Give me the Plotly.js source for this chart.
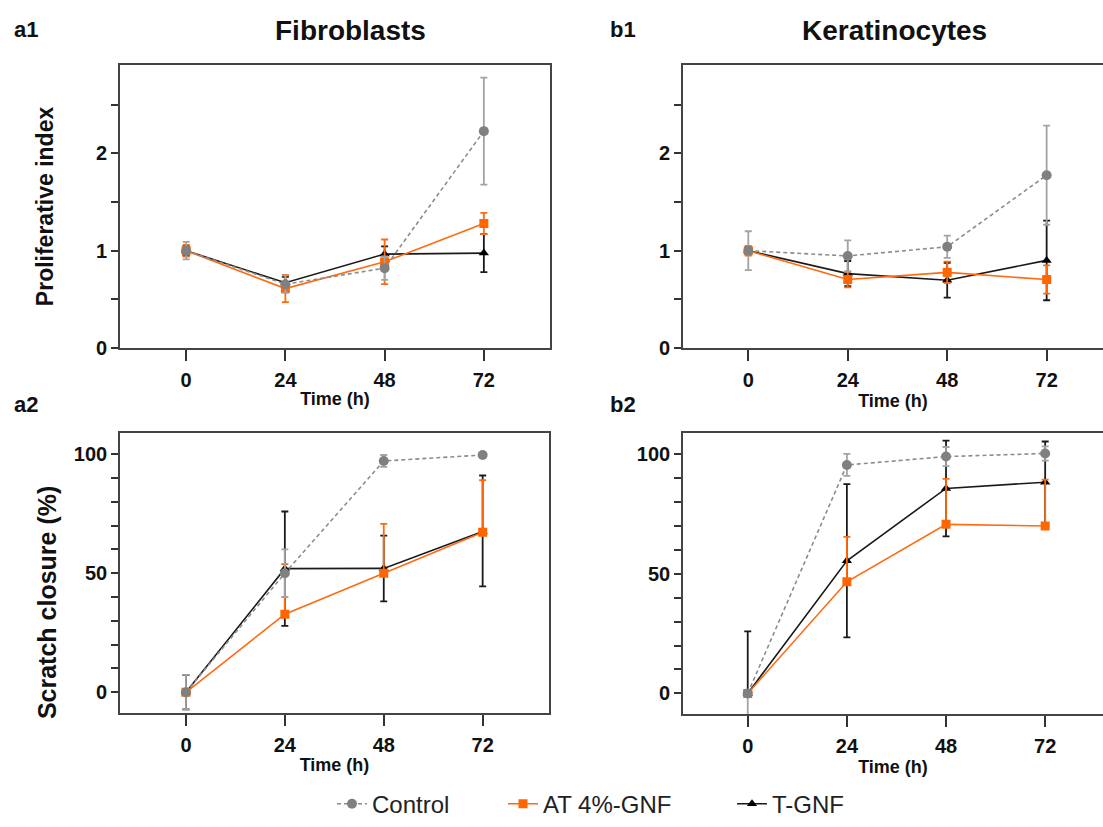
<!DOCTYPE html>
<html><head><meta charset="utf-8">
<script src="https://cdn.plot.ly/plotly-3.0.1.min.js"></script>
<style>html,body{margin:0;padding:0;overflow:hidden;background:#fff}#chart{width:1103px;height:827px}</style>
</head><body><div id="chart"></div><script>
// ---------- data ----------
const timePoints = [0, 24, 48, 72];
const seriesNames = ['Control', 'AT 4%-GNF', 'T-GNF'];
const xTickLabels = ['0', '24', '48', '72'];

// a1 – Fibroblasts, proliferative index
const fibroProlifControl = [1.00, 0.655, 0.82, 2.23];
const fibroProlifControlErr = [0.09, 0.09, 0.12, 0.55];
const fibroProlifAT = [1.00, 0.61, 0.885, 1.28];
const fibroProlifATErr = [0.06, 0.14, 0.23, 0.11];
const fibroProlifT = [1.00, 0.67, 0.965, 0.975];
const fibroProlifTErr = [0.05, 0.06, 0.08, 0.195];

// b1 – Keratinocytes, proliferative index
const keraProlifControl = [1.00, 0.946, 1.04, 1.777];
const keraProlifControlErr = [0.20, 0.16, 0.115, 0.51];
const keraProlifAT = [1.00, 0.703, 0.777, 0.703];
const keraProlifATErr = [0.05, 0.08, 0.11, 0.145];
const keraProlifT = [1.00, 0.764, 0.696, 0.90];
const keraProlifTErr = [0.03, 0.13, 0.18, 0.41];

// a2 – Fibroblasts, scratch closure (%)
const fibroScratchControl = [0, 50, 97.1, 99.6];
const fibroScratchControlErrUp = [7.3, 10, 2.5, 0.5];
const fibroScratchControlErrDown = [7.3, 10, 2.5, 0.5];
const fibroScratchAT = [0, 32.8, 50, 67.2];
const fibroScratchATErrUp = [0, 21, 20.7, 21.8];
const fibroScratchATErrDown = [0, 0, 0, 0];
const fibroScratchT = [0, 51.9, 52, 67.5];
const fibroScratchTErrUp = [7.2, 24, 13.8, 23.5];
const fibroScratchTErrDown = [7.2, 24, 13.8, 23];

// b2 – Keratinocytes, scratch closure (%)
const keraScratchControl = [0, 95.4, 98.9, 100.2];
const keraScratchControlErrUp = [0, 4.6, 4, 3];
const keraScratchControlErrDown = [12, 4.6, 4, 3];
const keraScratchAT = [0, 46.6, 70.6, 69.9];
const keraScratchATErrUp = [0, 18.8, 19, 19.4];
const keraScratchATErrDown = [0, 0, 0, 0];
const keraScratchT = [0, 55.4, 85.6, 88.2];
const keraScratchTErrUp = [25.9, 32, 20, 17];
const keraScratchTErrDown = [0, 32, 20, 17];

// ---------- styling ----------
const W = 1103, H = 827;
const fx = p => p / W;
const fy = p => 1 - p / H;
const FONT = 'Liberation Sans, Arial, Helvetica, sans-serif';

const styles = {
  'Control':   {line: {color: '#8c8c8c', width: 1.6, dash: '4px,3px'}, marker: {symbol: 'circle', size: 10, color: '#808080'}, err: '#a3a3a3', legend: 'legend'},
  'AT 4%-GNF': {line: {color: '#ff6a10', width: 1.6}, marker: {symbol: 'square', size: 9, color: '#ff6600'}, err: '#ff6a10', legend: 'legend2'},
  'T-GNF':     {line: {color: '#1a1a1a', width: 1.6}, marker: {symbol: 'triangle-up', size: 9, color: '#000000'}, err: '#1a1a1a', legend: 'legend3'}
};

function trace(name, y, up, down, xa, ya, show) {
  const s = styles[name];
  return {
    type: 'scatter', mode: 'lines+markers', name: name,
    x: timePoints, y: y, xaxis: xa, yaxis: ya,
    line: s.line, marker: s.marker,
    error_y: {type: 'data', symmetric: false, array: up, arrayminus: down, color: s.err, thickness: 1.8, width: 3.5},
    showlegend: show, legend: s.legend, hoverinfo: 'x+y+name'
  };
}

const data = [
  // a1 (drawn T, AT, Control so control is on top)
  trace(seriesNames[2], fibroProlifT, fibroProlifTErr, fibroProlifTErr, 'x', 'y', true),
  trace(seriesNames[1], fibroProlifAT, fibroProlifATErr, fibroProlifATErr, 'x', 'y', true),
  trace(seriesNames[0], fibroProlifControl, fibroProlifControlErr, fibroProlifControlErr, 'x', 'y', true),
  // b1
  trace(seriesNames[2], keraProlifT, keraProlifTErr, keraProlifTErr, 'x2', 'y2', false),
  trace(seriesNames[1], keraProlifAT, keraProlifATErr, keraProlifATErr, 'x2', 'y2', false),
  trace(seriesNames[0], keraProlifControl, keraProlifControlErr, keraProlifControlErr, 'x2', 'y2', false),
  // a2
  trace(seriesNames[2], fibroScratchT, fibroScratchTErrUp, fibroScratchTErrDown, 'x3', 'y3', false),
  trace(seriesNames[1], fibroScratchAT, fibroScratchATErrUp, fibroScratchATErrDown, 'x3', 'y3', false),
  trace(seriesNames[0], fibroScratchControl, fibroScratchControlErrUp, fibroScratchControlErrDown, 'x3', 'y3', false),
  // b2
  trace(seriesNames[2], keraScratchT, keraScratchTErrUp, keraScratchTErrDown, 'x4', 'y4', false),
  trace(seriesNames[1], keraScratchAT, keraScratchATErrUp, keraScratchATErrDown, 'x4', 'y4', false),
  trace(seriesNames[0], keraScratchControl, keraScratchControlErrUp, keraScratchControlErrDown, 'x4', 'y4', false)
];

function xAxis(domain, range, anchor) {
  return {
    domain: domain, range: range, anchor: anchor,
    tickmode: 'array', tickvals: timePoints, ticktext: xTickLabels,
    ticks: 'outside', ticklen: 11, tickwidth: 1.6, tickcolor: '#333', ticklabelstandoff: 2,
    showline: true, linecolor: '#444', linewidth: 1.6, mirror: true,
    showgrid: false, zeroline: false,
    tickfont: {family: FONT, size: 20, weight: 700, color: '#111'},
    title: {text: 'Time (h)', font: {family: FONT, size: 18, weight: 700, color: '#111'}, standoff: 3}
  };
}
function yAxis(domain, range, anchor, major, minorVals, title, standoff, mirror) {
  const ax = {
    domain: domain, range: range, anchor: anchor,
    tickmode: 'array', tickvals: major,
    ticks: 'outside', ticklen: 7, tickwidth: 1.6, tickcolor: '#333',
    minor: {tickmode: 'array', tickvals: minorVals, ticks: 'outside', ticklen: 7, tickwidth: 1.6, tickcolor: '#333'},
    showline: true, linecolor: '#444', linewidth: 1.6, mirror: mirror,
    showgrid: false, zeroline: false,
    tickfont: {family: FONT, size: 20, weight: 700, color: '#111'}
  };
  if (title) ax.title = {text: title, font: {family: FONT, size: 23, weight: 700, color: '#111'}, standoff: standoff};
  return ax;
}

const prolifMajor = [0, 1, 2];
const prolifMinor = [0.5, 1.5, 2.5];
const scratchMajor = [0, 50, 100];
const scratchMinor = [10, 20, 30, 40, 60, 70, 80, 90];

const legendBase = {orientation: 'h', yanchor: 'middle', xanchor: 'left', font: {family: FONT, size: 24, color: '#222'}, bgcolor: 'rgba(0,0,0,0)'};

const layout = {
  width: W, height: H,
  margin: {l: 0, r: 0, t: 0, b: 0},
  paper_bgcolor: '#fff', plot_bgcolor: '#fff',
  font: {family: FONT, color: '#111'},
  xaxis:  xAxis([fx(120), fx(550)], [-16, 88], 'y'),
  yaxis:  yAxis([fy(353), fy(66)], [0, 2.91], 'x', prolifMajor, prolifMinor, 'Proliferative index', 36, true),
  xaxis2: xAxis([fx(683), 1], [-15.76, 85.6], 'y2'),
  yaxis2: yAxis([fy(353), fy(66)], [0, 2.91], 'x2', prolifMajor, prolifMinor, null, 0, false),
  xaxis3: xAxis([fx(120), fx(549)], [-16, 88.1], 'y3'),
  yaxis3: yAxis([fy(724), fy(439)], [-8.9, 109], 'x3', scratchMajor, scratchMinor, null, 0, true),
  xaxis4: xAxis([fx(683), 1], [-15.67, 86.0], 'y4'),
  yaxis4: yAxis([fy(725), fy(439)], [-8.8, 108.9], 'x4', scratchMajor, scratchMinor, null, 0, false),
  legend:  Object.assign({x: fx(332), y: fy(816)}, legendBase),
  legend2: Object.assign({x: fx(503), y: fy(816)}, legendBase),
  legend3: Object.assign({x: fx(732), y: fy(816)}, legendBase),
  annotations: [
    {text: 'a1', x: fx(12), y: fy(30), xanchor: 'left', yanchor: 'middle'},
    {text: 'b1', x: fx(608), y: fy(30), xanchor: 'left', yanchor: 'middle'},
    {text: 'a2', x: fx(12), y: fy(410), xanchor: 'left', yanchor: 'middle'},
    {text: 'b2', x: fx(608), y: fy(410), xanchor: 'left', yanchor: 'middle'}
  ].map(a => Object.assign(a, {xref: 'paper', yref: 'paper', showarrow: false, font: {family: FONT, size: 22, weight: 700, color: '#111'}}))
  .concat([
    {text: 'Fibroblasts', x: fx(350), y: fy(31), xanchor: 'center', yanchor: 'middle'},
    {text: 'Keratinocytes', x: fx(895), y: fy(31), xanchor: 'center', yanchor: 'middle'}
  ].map(a => Object.assign(a, {xref: 'paper', yref: 'paper', showarrow: false, font: {family: FONT, size: 28, weight: 700, color: '#111'}})))
  .concat([
    {text: 'Scratch closure (%)', x: fx(47), y: fy(612), xanchor: 'center', yanchor: 'middle', textangle: -90,
     xref: 'paper', yref: 'paper', showarrow: false, font: {family: FONT, size: 25, weight: 700, color: '#111'}}
  ])
};

Plotly.newPlot('chart', data, layout, {displayModeBar: false});
</script></body></html>
